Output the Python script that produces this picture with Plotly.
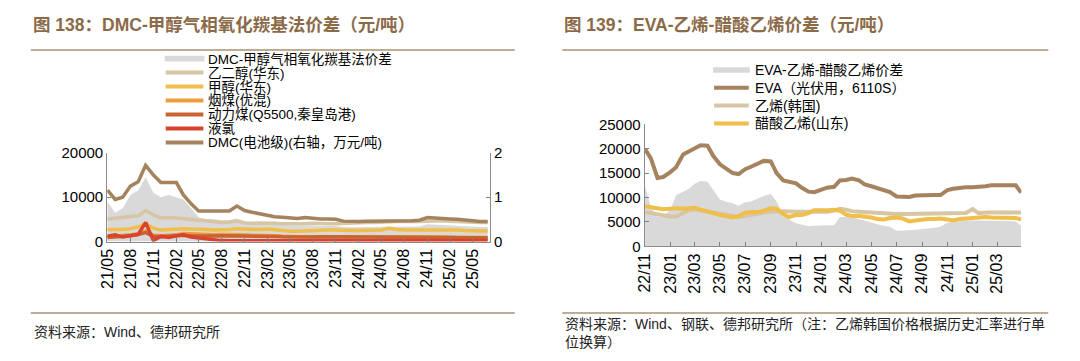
import pandas as pd
import plotly.graph_objects as go

W, H = 1080, 361

# ---------------- Left chart data (monthly, 2021/05 - 2025/07) ----------------
left_dates = pd.date_range("2021-05-01", periods=51, freq="MS")

dmc_spread = [9000, 6500, 7500, 10500, 11500, 14500, 11000, 10000, 10500, 10000,
              9500, 7500, 5500, 5000, 5000, 4800, 4800, 5200, 4600, 4400,
              4200, 4000, 3800, 3700, 3600, 3600, 3700, 3600, 3500, 3500,
              3500, 3300, 3200, 3200, 3300, 3300, 3300, 3300, 3300, 3300,
              3400, 3400, 3900, 3800, 3700, 3600, 3600, 3500, 3400, 3300, 3300]
meg = [5100, 5300, 5400, 5500, 5800, 7000, 6000, 5300, 5400, 5300,
       5100, 4900, 4800, 4700, 4500, 4300, 4400, 4600, 4200, 4100,
       4200, 4200, 4100, 4000, 4000, 3900, 4000, 4100, 4000, 4000,
       4000, 4100, 4100, 4200, 4300, 4300, 4400, 4500, 4500, 4500,
       4400, 4500, 4600, 4700, 4700, 4600, 4500, 4400, 4400, 4300, 4300]
methanol = [2700, 2600, 2700, 2900, 3300, 4000, 3000, 2600, 2700, 2800,
            2900, 2800, 2800, 2700, 2600, 2600, 2700, 2900, 2800, 2700,
            2700, 2800, 2600, 2400, 2300, 2300, 2400, 2500, 2500, 2600,
            2600, 2500, 2500, 2500, 2500, 2500, 2600, 3000, 2700, 2600,
            2600, 2600, 2600, 2700, 2700, 2700, 2600, 2500, 2400, 2400, 2400]
bitum_coal = [1100, 1200, 1300, 1500, 1800, 2400, 1400, 1300, 1400, 1500,
              1800, 1700, 1600, 1500, 1500, 1600, 1600, 1500, 1500, 1400,
              1400, 1400, 1300, 1200, 1100, 1100, 1100, 1100, 1200, 1200,
              1200, 1200, 1100, 1100, 1100, 1100, 1100, 1100, 1100, 1100,
              1100, 1100, 1050, 1000, 1000, 950, 950, 900, 900, 900, 900]
thermal_coal = [900, 1000, 1100, 1300, 1600, 2000, 1200, 1100, 1200, 1300,
                1400, 1300, 1250, 1250, 1250, 1300, 1300, 1300, 1300, 1250,
                1200, 1200, 1150, 1050, 1000, 1000, 1000, 1000, 1050, 1050,
                1050, 1000, 1000, 1000, 1000, 1000, 1000, 1000, 1000, 1000,
                1000, 1000, 950, 950, 900, 900, 850, 850, 850, 850, 850]
liquid_cl = [1200, 1500, 1000, 1300, 1600, 4300, 200, 1200, 900, 1300,
             1500, 1000, 800, 600, 300, 200, 150, 150, 100, 150,
             200, 150, 100, 150, 200, 200, 150, 150, 200, 200,
             150, 150, 200, 200, 200, 150, 150, 200, 200, 200,
             150, 150, 200, 200, 200, 150, 150, 200, 200, 200, 200]
dmc_price = [1.16, 0.95, 1.00, 1.25, 1.35, 1.72, 1.50, 1.33, 1.33, 1.33,
             1.05, 0.85, 0.69, 0.69, 0.69, 0.69, 0.69, 0.80, 0.70, 0.66,
             0.62, 0.60, 0.56, 0.55, 0.53, 0.52, 0.54, 0.52, 0.51, 0.51,
             0.50, 0.46, 0.45, 0.45, 0.46, 0.46, 0.47, 0.47, 0.47, 0.47,
             0.47, 0.48, 0.54, 0.53, 0.51, 0.51, 0.50, 0.48, 0.45, 0.45, 0.45]

left_names = ["DMC-甲醇气相氧化羰基法价差", "乙二醇(华东)", "甲醇(华东)", "烟煤(优混)",
              "动力煤(Q5500,秦皇岛港)", "液氯", "DMC(电池级)(右轴，万元/吨)"]
left_colors = ["#D9D9D9", "#D6C6A4", "#F0BE4B", "#EE9B3C", "#C9632F", "#D9432E", "#A5835F"]
left_values = [dmc_spread, meg, methanol, bitum_coal, thermal_coal, liquid_cl, dmc_price]

# ---------------- Right chart data (semi-monthly, 2022/11 - 2025/04) ----------------
right_dates = list(pd.date_range("2022-11-01", periods=60, freq="SMS")) + [pd.Timestamp("2025-04-28")]

eva_spread = [12300, 8000, 6000, 6200, 7500, 10500, 11200, 11800, 12800, 13400,
              13200, 11500, 9600, 9200, 8800, 8300, 9000, 9200, 9800, 10300,
              10700, 9200, 6500, 5500, 4700, 4400, 4100, 4200, 4300, 4300,
              4300, 6000, 6000, 5900, 5600, 5200, 4800, 4500, 4200, 4000,
              3200, 3200, 3300, 3400, 3500, 3700, 3800, 4000, 4800, 5000,
              5200, 5300, 5300, 5300, 5200, 5300, 5300, 5200, 5200, 5100, 4200]
eva_price = [19900, 18000, 14000, 14200, 15200, 16200, 18800, 19500, 20000, 20700,
             20600, 18500, 16800, 16000, 15000, 14800, 15800, 16300, 17000, 17500,
             17400, 15000, 13500, 13200, 12900, 12000, 11200, 11100, 11600, 12000,
             12200, 13500, 13600, 13900, 13500, 12700, 12300, 11900, 11500, 11100,
             10200, 10100, 10100, 10400, 10500, 10500, 10500, 10500, 11500, 11800,
             12000, 12100, 12100, 12100, 12300, 12500, 12500, 12500, 12500, 12500, 11000]
ethylene_kr = [7000, 6800, 6600, 6300, 6100, 6100, 6900, 7400, 7600, 7400,
               7200, 7000, 6700, 6400, 6200, 6000, 6200, 6500, 6700, 6900,
               7100, 7200, 7200, 7100, 7100, 7100, 7100, 7000, 7000, 7100,
               7300, 7700, 7500, 7200, 7100, 7000, 6900, 6800, 6700, 6700,
               6600, 6600, 6600, 6600, 6600, 6600, 6600, 6600, 6700, 6700,
               6700, 6800, 7600, 6800, 6900, 6900, 6900, 6900, 6900, 6900, 6900]
vam_sd = [8200, 8000, 7800, 7600, 7700, 7800, 7700, 7800, 7900, 7500,
          7200, 6800, 6400, 6200, 5900, 6200, 6900, 7000, 7000, 7300,
          7800, 7700, 6600, 6000, 6400, 6400, 6800, 7400, 7300, 7400,
          7500, 7300, 6500, 6200, 6200, 6100, 5900, 5600, 5500, 5800,
          5900, 5700, 5100, 5300, 5500, 5600, 5600, 5700, 5500, 5300,
          5600, 5700, 5900, 6000, 6000, 5900, 5900, 5900, 6000, 5800, 5500]

right_names = ["EVA-乙烯-醋酸乙烯价差", "EVA（光伏用，6110S）", "乙烯(韩国)", "醋酸乙烯(山东)"]
right_colors = ["#D9D9D9", "#A5835F", "#D6C6A4", "#F0BE4B"]
right_values = [eva_spread, eva_price, ethylene_kr, vam_sd]

left_yticks = [0, 10000, 20000]
left_y2ticks = [0, 1, 2]
right_yticks = [0, 5000, 10000, 15000, 20000, 25000]

titles = ["图 138：DMC-甲醇气相氧化羰基法价差（元/吨）", "图 139：EVA-乙烯-醋酸乙烯价差（元/吨）"]
sources = ["资料来源：Wind、德邦研究所",
           "资料来源：Wind、钢联、德邦研究所（注：乙烯韩国价格根据历史汇率进行单<br>位换算）"]

# ---------------- Figure ----------------
FONT = "Liberation Sans, Arial, Noto Sans CJK SC, sans-serif"
TITLE_COLOR = "#8B6A48"
RULE_COLOR = "#A8916F"
AXIS_COLOR = "#8C8C8C"


def px(x):
    return x / W


def py(y):
    return 1 - y / H


fig = go.Figure()

# Left chart traces
for i, (name, color, vals) in enumerate(zip(left_names, left_colors, left_values)):
    if i == 0:
        fig.add_trace(go.Scatter(x=left_dates, y=vals, name=name, mode="lines",
                                 fill="tozeroy", fillcolor=color, line=dict(width=0, color=color),
                                 xaxis="x", yaxis="y", showlegend=False))
    elif i == len(left_names) - 1:
        fig.add_trace(go.Scatter(x=left_dates, y=vals, name=name, mode="lines",
                                 line=dict(width=3.5, color=color),
                                 xaxis="x", yaxis="y2", showlegend=False))
    else:
        fig.add_trace(go.Scatter(x=left_dates, y=vals, name=name, mode="lines",
                                 line=dict(width=3.5, color=color),
                                 xaxis="x", yaxis="y", showlegend=False))

# Right chart traces: area first, then lines
order = [0, 2, 3, 1]
for i in order:
    name, color, vals = right_names[i], right_colors[i], right_values[i]
    if i == 0:
        fig.add_trace(go.Scatter(x=right_dates, y=vals, name=name, mode="lines",
                                 fill="tozeroy", fillcolor=color, line=dict(width=0, color=color),
                                 xaxis="x2", yaxis="y3", showlegend=False))
    else:
        fig.add_trace(go.Scatter(x=right_dates, y=vals, name=name, mode="lines",
                                 line=dict(width=4, color=color),
                                 xaxis="x2", yaxis="y3", showlegend=False))

ytickfont = dict(family=FONT, size=15, color="#000000")
xtickfont = dict(family=FONT, size=16, color="#000000")

axis_common = dict(showgrid=False, zeroline=False, showline=True, linecolor=AXIS_COLOR,
                   linewidth=1, ticks="inside", ticklen=4, tickcolor="#7F7F7F")

fig.update_layout(
    width=W, height=H,
    margin=dict(l=0, r=0, t=0, b=0),
    paper_bgcolor="white", plot_bgcolor="white",
    font=dict(family=FONT),
    showlegend=False,
    xaxis=dict(axis_common, domain=[px(99), px(485)], type="date",
               range=["2021-04-30", "2025-07-10"], tick0="2021-05-01", dtick="M3",
               tickformat="%y/%m", tickangle=-90, tickfont=xtickfont, anchor="y"),
    yaxis=dict(axis_common, domain=[py(244), py(151)], range=[0, 20000],
               tickvals=left_yticks, tickformat="d", tickfont=ytickfont, anchor="x"),
    yaxis2=dict(axis_common, overlaying="y", side="right", range=[0, 2],
                tickvals=left_y2ticks, tickformat="d", tickfont=ytickfont, anchor="x"),
    xaxis2=dict(axis_common, domain=[px(641), px(1021)], type="date",
                range=["2022-10-31", "2025-04-29"], tick0="2022-11-01", dtick="M2",
                tickformat="%y/%m", tickangle=-90, tickfont=xtickfont, anchor="y3"),
    yaxis3=dict(axis_common, domain=[py(249), py(121)], range=[0, 25000],
                tickvals=right_yticks, tickformat="d", tickfont=ytickfont, anchor="x2"),
)

shapes = []
annotations = []

# Titles, rules, sources
for (x0, x1), title, src, src_y in zip([(22, 510), (558, 1048)], titles, sources, [339, 340]):
    annotations.append(dict(x=px(x0), y=py(17), xref="paper", yref="paper", text="<b>" + title + "</b>",
                            showarrow=False, xanchor="left", yanchor="middle",
                            font=dict(family=FONT, size=17.5, color=TITLE_COLOR)))
    for yy in (43, 319):
        shapes.append(dict(type="line", xref="paper", yref="paper", x0=px(x0), x1=px(x1),
                           y0=py(yy), y1=py(yy), line=dict(color=RULE_COLOR, width=1.5)))
    annotations.append(dict(x=px(x0 + 1), y=py(src_y), xref="paper", yref="paper", text=src,
                            showarrow=False, xanchor="left", yanchor="middle", align="left",
                            font=dict(family=FONT, size=14, color="#222222")))


def add_legend(names, colors, sx0, sx1, tx, y0, dy, fs):
    for k, (name, color) in enumerate(zip(names, colors)):
        yy = y0 + k * dy
        if k == 0:
            shapes.append(dict(type="rect", xref="paper", yref="paper", x0=px(sx0), x1=px(sx1),
                               y0=py(yy + 3), y1=py(yy - 3), fillcolor=color, line=dict(width=0)))
        else:
            shapes.append(dict(type="line", xref="paper", yref="paper", x0=px(sx0 + 1), x1=px(sx1 - 1),
                               y0=py(yy), y1=py(yy), line=dict(color=color, width=4)))
        annotations.append(dict(x=px(tx), y=py(yy), xref="paper", yref="paper", text=name,
                                showarrow=False, xanchor="left", yanchor="middle", borderpad=0,
                                font=dict(family=FONT, size=fs, color="#000000")))


add_legend(left_names, left_colors, 157, 197, 200, 52, 14.7, 13.5)
add_legend(right_names, right_colors, 710, 747, 751, 64, 18.7, 14)

fig.update_layout(shapes=shapes, annotations=annotations)

fig.write_html("out.html", config={"displayModeBar": False},
               post_script="document.body.style.margin='0';")
